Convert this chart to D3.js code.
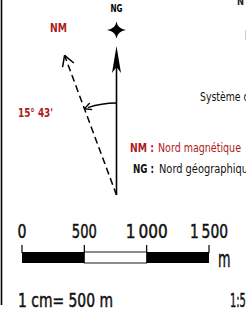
<!DOCTYPE html>
<html>
<head>
<meta charset="utf-8">
<script src="https://cdn.jsdelivr.net/npm/d3@7"></script>
<style>
  html, body { margin: 0; padding: 0; background: #fff; overflow: hidden; }
  svg { display: block; font-family: "DejaVu Sans Condensed", "Liberation Sans Narrow", sans-serif; }
  .heavy { stroke: #111; stroke-width: 0.45; }
</style>
</head>
<body>
<svg id="chart" width="246" height="310"></svg>
<script>
// scale bar values
const scaleTicks = [0, 500, 1000, 1500];
const scaleLabels = ["0", "500", "1\u2009000", "1\u2009500"];
const scaleUnit = "m";
const scaleRatio = "1 cm= 500 m";
const mapRatio = "1:50 000";

// compass
const declination = "15° 43'";
const legendCodes = ["NM :", "NG :"];
const legendNames = ["Nord magnétique", "Nord géographique"];
const northLabels = ["NM", "NG"];
const systemText = "Système de coordonnées";

const red = "#ad1a21";
const svg = d3.select("#chart");

// squeeze a text to the condensed width seen in the picture
function fit(t, w) {
    t.attr("textLength", w).attr("lengthAdjust", "spacingAndGlyphs");
    return t;
}

// left frame line
svg.append("line")
    .attr("x1", 1.5).attr("x2", 1.5).attr("y1", 0).attr("y2", 305)
    .attr("stroke", "#000").attr("stroke-width", 1.6);

// cut off text at the top right
fit(svg.append("text").attr("x", 237).attr("y", 5)
    .attr("font-size", 11).attr("font-weight", "bold").attr("fill", "#222").text("N"), 7);
svg.append("line").attr("x1", 245.5).attr("x2", 245.5).attr("y1", 30).attr("y2", 40)
    .attr("stroke", "#ccc").attr("stroke-width", 1);

// ---- compass ----
const origin = [116.5, 195];
const shownAngle = 20.4; // drawn angle of NM line
const rad = shownAngle * Math.PI / 180;
const ngTop = 46, nmLen = 149;
const nmTip = [origin[0] - nmLen * Math.sin(rad), origin[1] - nmLen * Math.cos(rad)];

// NG line + filled arrow
svg.append("line")
    .attr("x1", origin[0]).attr("y1", origin[1])
    .attr("x2", origin[0]).attr("y2", ngTop + 10)
    .attr("stroke", "#000").attr("stroke-width", 1.6);
svg.append("path")
    .attr("d", `M${origin[0]},${ngTop} L${origin[0] + 4.5},${ngTop + 27} L${origin[0]},${ngTop + 21} L${origin[0] - 4.5},${ngTop + 27} Z`)
    .attr("fill", "#000");

// NM dashed line + open arrow
svg.append("line")
    .attr("x1", origin[0]).attr("y1", origin[1])
    .attr("x2", nmTip[0]).attr("y2", nmTip[1])
    .attr("stroke", "#000").attr("stroke-width", 1.5)
    .attr("stroke-dasharray", "7,4");
const headL = 12, headA = 30 * Math.PI / 180;
[-1, 1].forEach(s => {
    const a = rad + s * headA;
    svg.append("line")
        .attr("x1", nmTip[0]).attr("y1", nmTip[1])
        .attr("x2", nmTip[0] + headL * Math.sin(a)).attr("y2", nmTip[1] + headL * Math.cos(a))
        .attr("stroke", "#000").attr("stroke-width", 1.5);
});

// angle arc
const arcR = 92;
const arc = d3.arc()
    .innerRadius(arcR).outerRadius(arcR)
    .startAngle(-0.005).endAngle(-rad + 0.04);
svg.append("path")
    .attr("transform", `translate(${origin[0]},${origin[1]})`)
    .attr("d", arc())
    .attr("fill", "none").attr("stroke", "#000").attr("stroke-width", 1.3);
// arc arrow head at the NM end
const ex = origin[0] - arcR * Math.sin(rad), ey = origin[1] - arcR * Math.cos(rad);
const tang = [-Math.cos(rad), Math.sin(rad)];
const nrm = [-tang[1], tang[0]];
svg.append("path")
    .attr("d", `M${ex},${ey} L${ex - 7 * tang[0] + 3.5 * nrm[0]},${ey - 7 * tang[1] + 3.5 * nrm[1]} M${ex},${ey} L${ex - 7 * tang[0] - 3.5 * nrm[0]},${ey - 7 * tang[1] - 3.5 * nrm[1]}`)
    .attr("fill", "none").attr("stroke", "#000").attr("stroke-width", 1.3);

// star above NG, concave sides
const starPts = d3.range(4).map(i => {
    const a = i * Math.PI / 2;
    const r = i % 2 === 0 ? 8.5 : 9.5;
    return [r * Math.sin(a), -r * Math.cos(a)];
});
let starD = `M${starPts[0][0]},${starPts[0][1]}`;
starPts.forEach((p, i) => {
    const q = starPts[(i + 1) % 4];
    starD += ` Q${(p[0] + q[0]) * 0.12},${(p[1] + q[1]) * 0.12} ${q[0]},${q[1]}`;
});
svg.append("path")
    .attr("transform", `translate(${origin[0]},30)`)
    .attr("d", starD + "Z")
    .attr("fill", "#000");

fit(svg.append("text").attr("x", origin[0]).attr("y", 12)
    .attr("text-anchor", "middle").attr("font-size", 11).attr("font-weight", "bold")
    .text(northLabels[1]), 12);
fit(svg.append("text").attr("x", 58.5).attr("y", 32)
    .attr("text-anchor", "middle").attr("font-size", 12).attr("font-weight", "bold")
    .attr("fill", red).text(northLabels[0]), 17);
fit(svg.append("text").attr("x", 35.5).attr("y", 117)
    .attr("text-anchor", "middle").attr("font-size", 12.5).attr("font-weight", "bold")
    .attr("fill", red).text(declination), 35);

fit(svg.append("text").attr("x", 200).attr("y", 101)
    .attr("font-size", 12).attr("fill", "#111").text(systemText), 118);

// legend
const legend = svg.selectAll(".leg").data(legendCodes).enter().append("g")
    .attr("class", "leg")
    .attr("transform", (d, i) => `translate(0,${152 + i * 21})`);
legend.append("text").attr("x", 154).attr("text-anchor", "end")
    .attr("font-size", 12).attr("font-weight", "bold")
    .attr("fill", (d, i) => i === 0 ? red : "#111").text(d => d)
    .attr("textLength", (d, i) => i === 0 ? 24 : 21).attr("lengthAdjust", "spacingAndGlyphs");
legend.append("text").attr("x", (d, i) => i === 0 ? 158 : 159)
    .attr("font-size", 12)
    .attr("fill", (d, i) => i === 0 ? red : "#111").text((d, i) => legendNames[i])
    .attr("textLength", (d, i) => i === 0 ? 83 : 95).attr("lengthAdjust", "spacingAndGlyphs");

// ---- scale bar ----
const x = d3.scaleLinear().domain([0, 1500]).range([22, 209]);
const barTop = 252, barH = 11;
const labelW = [9, 25, 42, 38];
const segs = d3.pairs(scaleTicks);
svg.selectAll(".seg").data(segs).enter().append("rect")
    .attr("x", d => x(d[0])).attr("y", barTop)
    .attr("width", d => x(d[1]) - x(d[0])).attr("height", barH)
    .attr("fill", (d, i) => i % 2 === 0 ? "#000" : "#fff")
    .attr("stroke", "#000").attr("stroke-width", (d, i) => i % 2 === 0 ? 0 : 0.9);
svg.selectAll(".tick").data(scaleTicks).enter().append("line")
    .attr("x1", d => x(d)).attr("x2", d => x(d))
    .attr("y1", barTop - 7).attr("y2", barTop + 1)
    .attr("stroke", "#000").attr("stroke-width", 1.2);
svg.selectAll(".lab").data(scaleTicks).enter().append("text")
    .attr("class", "heavy")
    .attr("x", d => x(d)).attr("y", 237.5)
    .attr("text-anchor", "middle").attr("font-size", 19).attr("fill", "#111")
    .text((d, i) => scaleLabels[i])
    .attr("textLength", (d, i) => labelW[i]).attr("lengthAdjust", "spacingAndGlyphs");
fit(svg.append("text").attr("class", "heavy").attr("x", 218).attr("y", 266.5)
    .attr("font-size", 23).attr("fill", "#111").text(scaleUnit), 12.5);

fit(svg.append("text").attr("class", "heavy").attr("x", 18).attr("y", 307)
    .attr("font-size", 19).attr("fill", "#111").text(scaleRatio), 95);
fit(svg.append("text").attr("class", "heavy").attr("x", 230).attr("y", 307)
    .attr("font-size", 19).attr("fill", "#111").text(mapRatio), 44);
</script>
</body>
</html>
